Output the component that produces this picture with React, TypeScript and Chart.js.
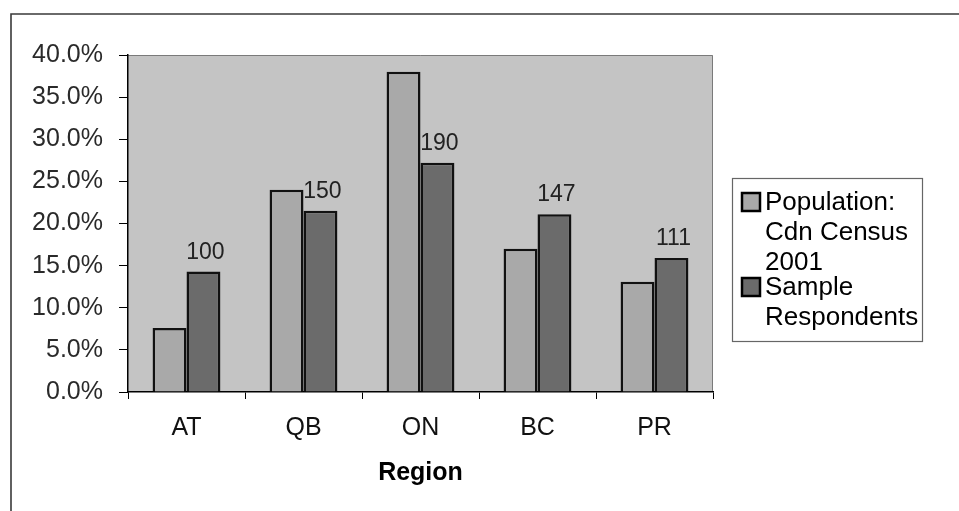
import React, { useEffect, useRef } from "react";
import { Chart, registerables } from "chart.js";

Chart.register(...registerables);

// ---- data ----
const categories = ["AT", "QB", "ON", "BC", "PR"];
const populationPct = [7.6, 24.0, 38.0, 17.0, 13.1];
const samplePct = [14.3, 21.5, 27.2, 21.1, 15.9];
const sampleCounts = [100, 150, 190, 147, 111];
const seriesLabels = ["Population: Cdn Census 2001", "Sample Respondents"];
const legendLines = [
  ["Population:", "Cdn Census", "2001"],
  ["Sample", "Respondents"],
];
const axisTitle = "Region";
const yMin = 0;
const yMax = 40;
const yStep = 5;

// ---- styles ----
const FONT = "'Liberation Sans', Arial, Helvetica, sans-serif";
const PLOT_BG = "#c4c4c4";
const LIGHT = "#a9a9a9";
const DARK = "#6b6b6b";

const framePlugin = {
  id: "framePlugin",
  beforeDraw(chart: any) {
    const { ctx, chartArea, width, height } = chart;
    ctx.save();
    ctx.fillStyle = "#ffffff";
    ctx.fillRect(0, 0, width, height);
    // outer frame (top + left)
    ctx.strokeStyle = "#3a3a3a";
    ctx.lineWidth = 1.6;
    ctx.beginPath();
    ctx.moveTo(11, height);
    ctx.lineTo(11, 14);
    ctx.lineTo(width, 14);
    ctx.stroke();
    // plot area
    ctx.fillStyle = PLOT_BG;
    ctx.fillRect(chartArea.left, chartArea.top, chartArea.right - chartArea.left, chartArea.bottom - chartArea.top);
    ctx.strokeStyle = "#7a7a7a";
    ctx.lineWidth = 1;
    ctx.beginPath();
    ctx.moveTo(chartArea.left, chartArea.top + 0.5);
    ctx.lineTo(chartArea.right - 0.5, chartArea.top + 0.5);
    ctx.lineTo(chartArea.right - 0.5, chartArea.bottom);
    ctx.stroke();
    ctx.restore();
  },
};

const valueLabelPlugin = {
  id: "valueLabelPlugin",
  afterDatasetsDraw(chart: any) {
    const { ctx } = chart;
    const meta = chart.getDatasetMeta(1);
    ctx.save();
    ctx.font = `23px ${FONT}`;
    ctx.fillStyle = "#222222";
    ctx.textAlign = "center";
    ctx.textBaseline = "alphabetic";
    meta.data.forEach((bar: any, i: number) => {
      ctx.fillText(String(sampleCounts[i]), bar.x + 2, bar.y - 13);
    });
    ctx.restore();
  },
};

const legendPlugin = {
  id: "legendPlugin",
  afterDraw(chart: any) {
    const { ctx } = chart;
    const boxX = 732;
    const boxY = 178;
    const boxW = 190;
    const boxH = 163;
    ctx.save();
    ctx.fillStyle = "#ffffff";
    ctx.fillRect(boxX, boxY, boxW, boxH);
    ctx.strokeStyle = "#666666";
    ctx.lineWidth = 1.2;
    ctx.strokeRect(boxX + 0.5, boxY + 0.5, boxW, boxH);
    const colors = [LIGHT, DARK];
    const entryStart = [210, 295];
    ctx.font = `26px ${FONT}`;
    ctx.textAlign = "left";
    ctx.textBaseline = "alphabetic";
    legendLines.forEach((lines, i) => {
      const base = entryStart[i];
      // swatch
      ctx.fillStyle = colors[i];
      ctx.fillRect(742, base - 17, 18, 18);
      ctx.strokeStyle = "#000000";
      ctx.lineWidth = 2.5;
      ctx.strokeRect(742, base - 17, 18, 18);
      ctx.fillStyle = "#000000";
      lines.forEach((line, j) => {
        ctx.fillText(line, 765, base + j * 30);
      });
    });
    ctx.restore();
  },
};

export default function App() {
  const canvasRef = useRef<HTMLCanvasElement | null>(null);

  useEffect(() => {
    document.body.style.margin = "0";
    const canvas = canvasRef.current;
    if (!canvas) return;
    const chart = new Chart(canvas, {
      type: "bar",
      data: {
        labels: categories,
        datasets: [
          {
            label: seriesLabels[0],
            data: populationPct,
            backgroundColor: LIGHT,
            borderColor: "#111111",
            borderWidth: 2.5,
            borderSkipped: "bottom",
          },
          {
            label: seriesLabels[1],
            data: samplePct,
            backgroundColor: DARK,
            borderColor: "#111111",
            borderWidth: 2.5,
            borderSkipped: "bottom",
          },
        ],
      },
      options: {
        responsive: false,
        animation: false,
        devicePixelRatio: 1,
        layout: { padding: { top: 55, right: 246, left: 0, bottom: 0 } },
        plugins: {
          legend: { display: false },
          tooltip: { enabled: false },
          title: { display: false },
        },
        datasets: {
          bar: { categoryPercentage: 0.58, barPercentage: 1.0 },
        },
        scales: {
          x: {
            offset: true,
            grid: {
              display: true,
              offset: true,
              drawOnChartArea: false,
              drawTicks: true,
              tickLength: 7,
              tickColor: "#000000",
              lineWidth: 1,
            },
            border: { display: true, color: "#000000", width: 1.5 },
            ticks: {
              color: "#111111",
              font: { family: FONT, size: 25 },
              padding: 14,
              maxRotation: 0,
              autoSkip: false,
            },
            title: {
              display: true,
              text: axisTitle,
              color: "#000000",
              font: { family: FONT, size: 25, weight: "bold" },
              padding: { top: 0, bottom: 23 },
            },
            afterFit(scale: any) {
              scale.height = 119;
            },
          },
          y: {
            min: yMin,
            max: yMax,
            grid: {
              display: true,
              drawOnChartArea: false,
              drawTicks: true,
              tickLength: 9,
              tickColor: "#000000",
              lineWidth: 1,
            },
            border: { display: true, color: "#000000", width: 1.5 },
            ticks: {
              stepSize: yStep,
              color: "#2a2a2a",
              font: { family: FONT, size: 25 },
              padding: 16,
              callback: (v: any) => Number(v).toFixed(1) + "%",
            },
            afterFit(scale: any) {
              scale.width = 128;
            },
          },
        },
      },
      plugins: [framePlugin, valueLabelPlugin, legendPlugin],
    });
    return () => chart.destroy();
  }, []);

  return (
    <div style={{ width: 959, height: 511 }}>
      <canvas ref={canvasRef} width={959} height={511} style={{ display: "block" }} />
    </div>
  );
}
